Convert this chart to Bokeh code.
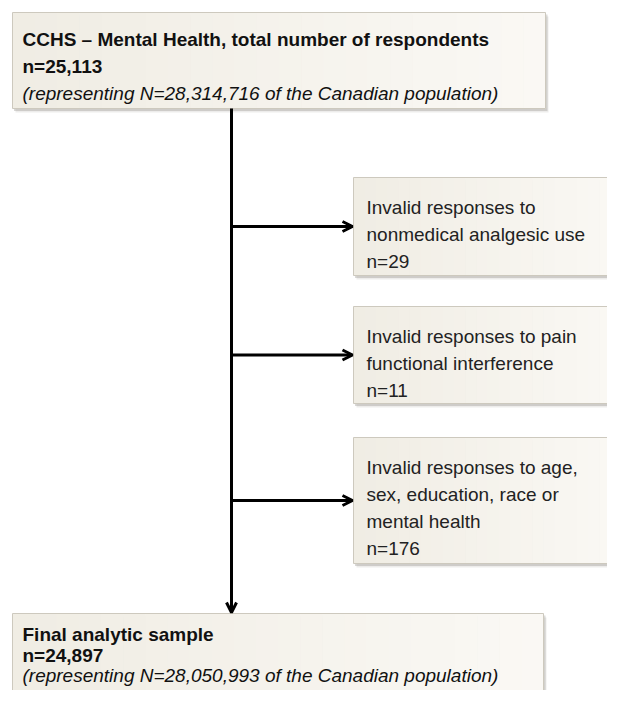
from bokeh.plotting import figure
from bokeh.models import Range1d, Arrow, OpenHead
from bokeh.core.properties import value
from bokeh.embed import file_html
from bokeh.resources import INLINE

# ---- content of the flowchart ----
top_title = "CCHS \u2013 Mental Health, total number of respondents"
top_n = "n=25,113"
top_note = "(representing N=28,314,716 of the Canadian population)"

excl_lines = [
    ["Invalid responses to", "nonmedical analgesic use"],
    ["Invalid responses to pain", "functional interference"],
    ["Invalid responses to age,", "sex, education, race or", "mental health"],
]
excl_n = [29, 11, 176]

final_title = "Final analytic sample"
final_n = "n=24,897"
final_note = "(representing N=28,050,993 of the Canadian population)"

# ---- layout (reference pixel coordinates) ----
W, H = 607, 690
p = figure(width=W, height=H, x_range=Range1d(0, W), y_range=Range1d(H, 0),
           x_axis_type=None, y_axis_type=None, toolbar_location=None,
           output_backend="svg", min_border=0)
p.grid.visible = False
p.outline_line_color = None
p.background_fill_color = "white"
p.border_fill_color = "white"

FONT = value("Liberation Sans")
FS = "19px"


def lerp(c1, c2, t):
    return "#%02x%02x%02x" % tuple(int(round(a + (b - a) * t)) for a, b in zip(c1, c2))


def box(l, t, r, b):
    # soft drop shadow
    p.quad(left=l + 3, right=r + 3, top=t + 4, bottom=b + 4, fill_color="#8c8a84", fill_alpha=0.16, line_color=None)
    p.quad(left=l + 1.5, right=r + 2, top=t + 2, bottom=b + 2.5, fill_color="#8c8a84", fill_alpha=0.32, line_color=None)
    # gradient fill
    n = 24
    c1, c2 = (240, 237, 228), (250, 248, 244)
    for i in range(n):
        x0 = l + (r - l) * i / n
        x1 = l + (r - l) * (i + 1) / n + 0.6
        p.quad(left=x0, right=x1, top=t, bottom=b, fill_color=lerp(c1, c2, i / (n - 1)), line_color=None)
    p.quad(left=l, right=r, top=t, bottom=b, fill_color=None, line_color="#cdc9be", line_width=1)


def lines(x, y0, lh, texts, styles, color="#1c1c1c"):
    for i, (tx, st) in enumerate(zip(texts, styles)):
        p.text(x=[x], y=[y0 + i * lh], text=[tx], text_font=FONT, text_font_size=FS,
               text_font_style=st, text_baseline="alphabetic", text_align="left", text_color=color)


# boxes
top_box = (12, 12, 545, 108)
side_boxes = [(353, 177, 621, 275), (353, 306, 621, 403), (353, 437, 621, 563)]
final_box = (12, 613, 543, 725)

# connectors
XV = 231
line_kw = dict(line_color="black", line_width=3)
p.add_layout(Arrow(end=OpenHead(size=10, line_width=3, line_color="black"),
                   x_start=XV, y_start=top_box[3], x_end=XV, y_end=final_box[1] - 1, **line_kw))
for (l, t, r, b) in side_boxes:
    yc = (t + b) / 2
    p.add_layout(Arrow(end=OpenHead(size=10, line_width=3, line_color="black"),
                       x_start=XV, y_start=yc, x_end=l - 1, y_end=yc, **line_kw))

box(*top_box)
lines(22, 39, 27, [top_title, top_n, top_note], ["bold", "bold", "italic"], "#111111")

for (l, t, r, b), txts, n in zip(side_boxes, excl_lines, excl_n):
    box(l, t, r, b)
    lines(l + 13, t + 30, 27, txts + ["n=%d" % n], ["normal"] * (len(txts) + 1), "#222222")

box(*final_box)
lines(22, 634, 20.5, [final_title, final_n, final_note], ["bold", "bold", "italic"], "#111111")

open("out.html", "w").write(file_html(p, INLINE))
